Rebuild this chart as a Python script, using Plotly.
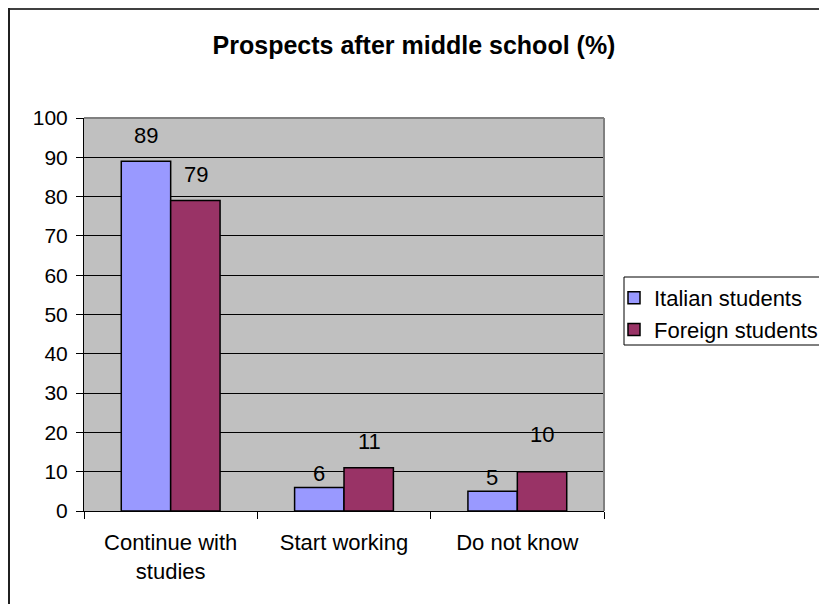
import plotly.graph_objects as go

categories = ["Continue with<br>studies", "Start working", "Do not know"]
italian = [89, 6, 5]
foreign = [79, 11, 10]
series_names = ["Italian students", "Foreign students"]
y_ticks = [0, 10, 20, 30, 40, 50, 60, 70, 80, 90, 100]

# label vertical offsets (px) above bar tops, as placed in the original
italian_label_shift = [26, 14, 14]
foreign_label_shift = [26, 26, 37]

FONT = "Liberation Sans, Arial, sans-serif"
W, H = 811, 596          # page has an 8px body margin on every side
OFF = 8                  # reference pixel -> figure pixel offset
L, R, T, B = 76, 811 - 596, 110, 596 - 503

fig = go.Figure()
fig.add_trace(go.Bar(x=categories, y=italian, name=series_names[0],
                     marker=dict(color="#9999FF", line=dict(color="black", width=1.5))))
fig.add_trace(go.Bar(x=categories, y=foreign, name=series_names[1],
                     marker=dict(color="#993366", line=dict(color="black", width=1.5))))

annotations = []
for vals, shifts, xs in ((italian, italian_label_shift, -25), (foreign, foreign_label_shift, 25)):
    for c, v, s in zip(categories, vals, shifts):
        annotations.append(dict(x=c, y=v, xref="x", yref="y", text=str(v), showarrow=False,
                                xshift=xs, yshift=s, yanchor="middle",
                                font=dict(family=FONT, size=22, color="black")))

pw = W - L - R
ph = H - T - B
def px_x(px):  # reference pixel x -> paper
    return (px - OFF - L) / pw
def px_y(py):  # reference pixel y -> paper
    return (H - B - (py - OFF)) / ph
def cx(px):    # reference pixel x -> container
    return (px - OFF) / W
def cy(py):    # reference pixel y -> container
    return 1 - (py - OFF) / H

shapes = [
    # plot area gray border (top and right)
    dict(type="line", xref="paper", yref="paper", x0=0, x1=1, y0=1, y1=1,
         line=dict(color="#808080", width=2)),
    dict(type="line", xref="paper", yref="paper", x0=1, x1=1, y0=0, y1=1,
         line=dict(color="#808080", width=2)),
    # chart outer border (top and left visible)
    dict(type="line", xref="paper", yref="paper", x0=px_x(8), x1=px_x(840), y0=px_y(8.5), y1=px_y(8.5),
         line=dict(color="#404040", width=3)),
    dict(type="line", xref="paper", yref="paper", x0=px_x(8.5), x1=px_x(8.5), y0=px_y(8), y1=px_y(640),
         line=dict(color="#202020", width=3)),
    # legend box
    dict(type="rect", xref="paper", yref="paper", x0=px_x(624), x1=px_x(840),
         y0=px_y(345), y1=px_y(277), line=dict(color="black", width=1), fillcolor="white",
         layer="below"),
]

fig.update_layout(
    width=W, height=H,
    margin=dict(l=L, r=R, t=T, b=B, pad=0, autoexpand=False),
    paper_bgcolor="white",
    plot_bgcolor="#C0C0C0",
    barmode="group",
    bargap=0.43,
    bargroupgap=0,
    font=dict(family=FONT, size=22, color="black"),
    title=dict(text="<b>Prospects after middle school (%)</b>", x=cx(414), xref="container",
               y=cy(45), yref="container", yanchor="middle", xanchor="center",
               font=dict(family=FONT, size=25, color="black")),
    legend=dict(x=cx(614), y=cy(277), xref="container", yref="container",
                xanchor="left", yanchor="top",
                borderwidth=0, bgcolor="rgba(0,0,0,0)",
                font=dict(family=FONT, size=22, color="black"),
                itemwidth=30, tracegroupgap=0),
    annotations=annotations,
    shapes=shapes,
    xaxis=dict(type="category", showgrid=False, showline=True, linecolor="black", linewidth=1,
               ticks="outside", tickson="boundaries", ticklen=7, tickcolor="black",
               ticklabelstandoff=12,
               tickfont=dict(family=FONT, size=22, color="black"), zeroline=False),
    yaxis=dict(range=[0, 100], tickvals=y_ticks, showgrid=True, gridcolor="black", gridwidth=1,
               showline=True, linecolor="black", linewidth=1, ticks="outside", ticklen=7,
               tickcolor="black", ticklabelstandoff=4,
               tickfont=dict(family=FONT, size=21, color="black"),
               zeroline=False),
)

fig.write_html("out.html")
